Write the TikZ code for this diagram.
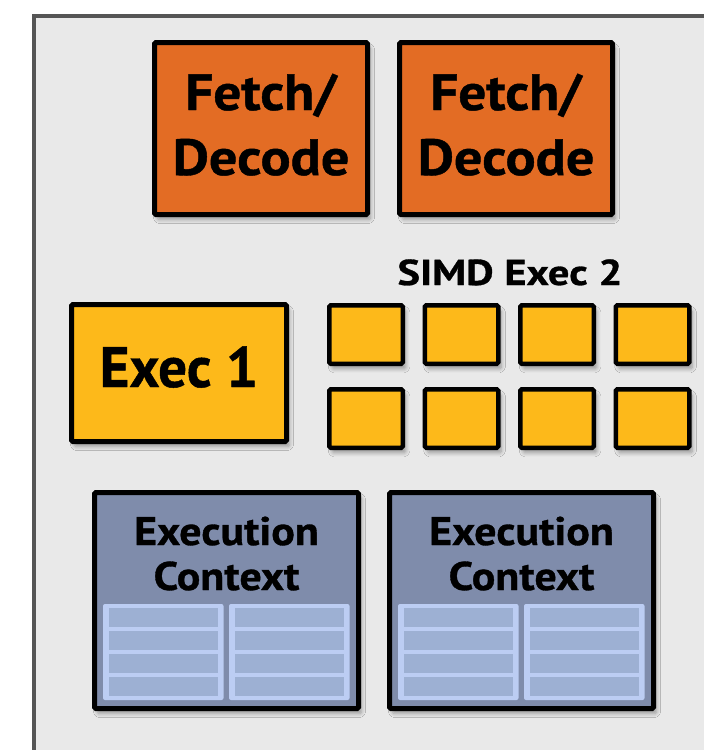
\documentclass[tikz,border=0pt]{standalone}
\usepackage{fontspec}
\setmainfont{PT Sans}[BoldFeatures={FakeBold=0.8}]
\usetikzlibrary{shadows.blur}
\definecolor{bgfill}{HTML}{E9E9E9}
\definecolor{frame}{HTML}{555555}
\definecolor{fetchc}{HTML}{E36C24}
\definecolor{execc}{HTML}{FDB91A}
\definecolor{ctxc}{HTML}{7F8CAB}
\definecolor{panelc}{HTML}{BCCDF3}
\definecolor{rowc}{HTML}{9DB0D3}
\tikzset{
  shade/.style={blur shadow={shadow xshift=3pt,shadow yshift=-5pt,shadow blur steps=6,shadow opacity=35,shadow blur radius=4pt}},
  unitbox/.style={draw=black,line width=5pt,rounded corners=1.5pt,inner sep=0pt,outer sep=0pt,shade},
  fetchbox/.style={unitbox,fill=fetchc,minimum width=213pt,minimum height=172pt},
  exec1box/.style={unitbox,fill=execc,minimum width=215pt,minimum height=137pt},
  laneBox/.style={unitbox,line width=4.5pt,fill=execc,minimum width=73.5pt,minimum height=58.5pt},
  ctxbox/.style={unitbox,fill=ctxc,minimum width=264pt,minimum height=216pt},
  panel/.style={fill=panelc,rounded corners=2pt},
  regrow/.style={fill=rowc},
  lbl/.style={anchor=base,inner sep=0pt,font=\bfseries},
}
\begin{document}
\begin{tikzpicture}[x=1pt,y=-1pt]
\useasboundingbox (0,0) rectangle (704,750);
\clip (0,0) rectangle (704,750);
\fill[white] (0,0) rectangle (704,750);
% outer core frame
\draw[frame,fill=bgfill,line width=4pt] (34,16) rectangle (760,800);
% fetch/decode
\node[fetchbox] (fd1) at (261,128.5) {};
\node[fetchbox] (fd2) at (506,128.5) {};
\foreach \n/\x in {fd1/261,fd2/506}{
  \node[lbl,font=\bfseries\fontsize{51}{60}\selectfont] (\n a) at (\x,110) {\scalebox{1.08}[1]{Fetch/}};
  \node[lbl,font=\bfseries\fontsize{51}{60}\selectfont] (\n b) at (\x,175) {\scalebox{1.1}[1]{Decode}};
}
% exec 1
\node[exec1box] (ex1) at (179,373) {};
\node[lbl,font=\bfseries\fontsize{57}{60}\selectfont] (ex1t) at (179,387) {Exec 1};
% SIMD exec 2
\node[lbl,font=\bfseries\fontsize{36}{40}\selectfont] (simdt) at (510,285) {\scalebox{1.18}[1]{SIMD Exec 2}};
\foreach \i/\x in {1/366,2/461.5,3/557,4/652.5}{
  \node[laneBox] (lane a\i) at (\x,334.5) {};
  \node[laneBox] (lane b\i) at (\x,418.5) {};
}
% execution contexts
\foreach \n/\dx in {c1/0,c2/295}{
  \node[ctxbox] (\n) at (226.5+\dx,600.5) {};
  \node[lbl,font=\bfseries\fontsize{40}{45}\selectfont] (\n a) at (226.5+\dx,545) {\scalebox{1.1}[1]{Execution}};
  \node[lbl,font=\bfseries\fontsize{40}{45}\selectfont] (\n b) at (226.5+\dx,590) {\scalebox{1.1}[1]{Context}};
  \foreach \px in {103,229}{
    \fill[panel] (\px+\dx,604) rectangle (\px+\dx+120.5,700);
    \foreach \r in {0,1,2,3}{
      \fill[regrow] (\px+\dx+5.5,608+23*\r) rectangle (\px+\dx+115,626.5+23*\r);
    }
  }
}
\end{tikzpicture}
\end{document}
